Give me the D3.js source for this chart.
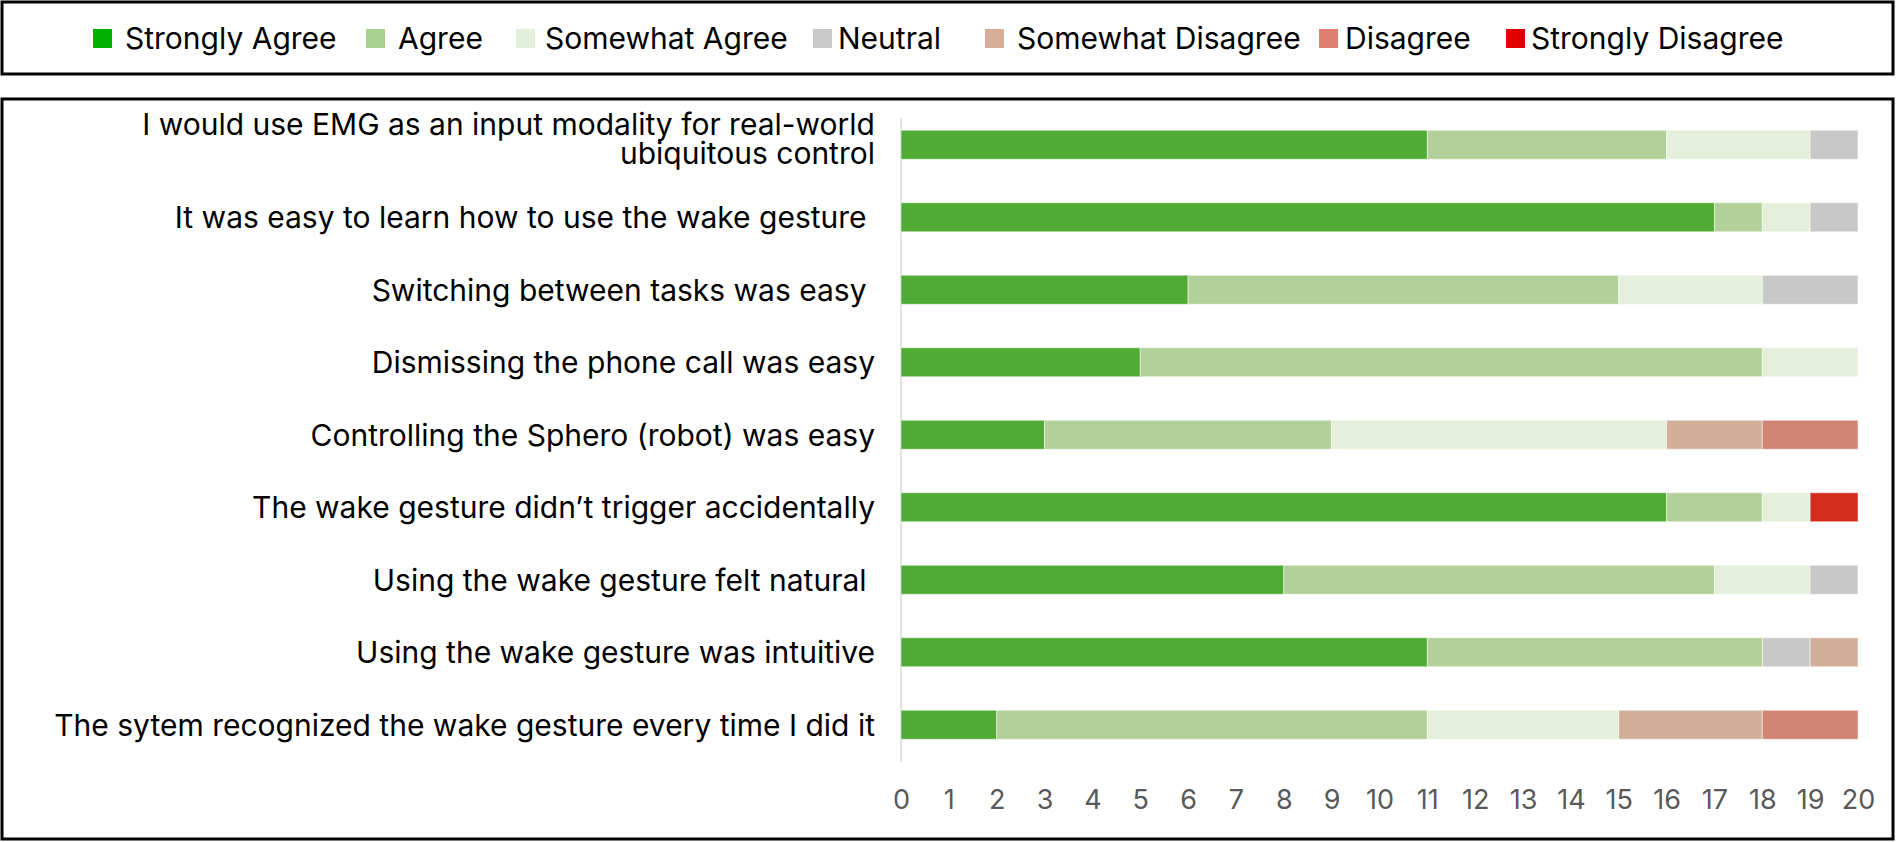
<!DOCTYPE html>
<html>
<head>
<meta charset="utf-8">
<script src="https://cdn.jsdelivr.net/npm/d3@7"></script>
<style>
  body { margin: 0; background: #fff; }
  svg text { font-family: Inter, "Noto Sans", sans-serif; }
</style>
</head>
<body>
<div class="chart"></div>
<script>
// survey statements, top to bottom
var categories = [
  "I would use EMG as an input modality for real-world|ubiquitous control",
  "It was easy to learn how to use the wake gesture ",
  "Switching between tasks was easy ",
  "Dismissing the phone call was easy",
  "Controlling the Sphero (robot) was easy",
  "The wake gesture didn\u2019t trigger accidentally",
  "Using the wake gesture felt natural ",
  "Using the wake gesture was intuitive",
  "The sytem recognized the wake gesture every time I did it"
];

var levels = ["Strongly Agree", "Agree", "Somewhat Agree", "Neutral",
  "Somewhat Disagree", "Disagree", "Strongly Disagree"];

// number of participants per answer
var stronglyAgree     = [11, 17, 6, 5, 3, 16, 8, 11, 2];
var agree             = [5, 1, 9, 13, 6, 2, 9, 7, 9];
var somewhatAgree     = [3, 1, 3, 2, 7, 1, 2, 0, 4];
var neutral           = [1, 1, 2, 0, 0, 0, 1, 1, 0];
var somewhatDisagree  = [0, 0, 0, 0, 2, 0, 0, 1, 3];
var disagree          = [0, 0, 0, 0, 2, 0, 0, 0, 2];
var stronglyDisagree  = [0, 0, 0, 0, 0, 1, 0, 0, 0];

var xTicks = d3.range(0, 21);

var barColors = ["#4fab33", "#b2d198", "#e4f0db", "#c8c8c8", "#d2af9a", "#d28474", "#d22d1e"];
var legendColors = ["#00b000", "#a9d18e", "#e2efda", "#c9c9c9", "#d9ae98", "#e08070", "#e00000"];

var svgWidth = 1897;
var svgHeight = 842;

var svg = d3.select(".chart")
  .append("svg")
  .attr("width", svgWidth)
  .attr("height", svgHeight);

// build rows for the stack
var series = [stronglyAgree, agree, somewhatAgree, neutral, somewhatDisagree, disagree, stronglyDisagree];
var rows = categories.map(function(c, i) {
  var row = { category: c };
  levels.forEach(function(l, j) { row[l] = series[j][i]; });
  return row;
});

var stacked = d3.stack().keys(levels)(rows);

// ---- legend box
svg.append("rect")
  .attr("x", 2).attr("y", 2)
  .attr("width", 1891).attr("height", 72)
  .attr("fill", "none")
  .attr("stroke", "#000")
  .attr("stroke-width", 3);

var legendSquareX = [93, 366, 516, 813, 985, 1319, 1506];
var legendTextX = [125, 398, 545, 838, 1017, 1345, 1531];

var legend = svg.append("g");
levels.forEach(function(l, i) {
  legend.append("rect")
    .attr("x", legendSquareX[i]).attr("y", 29)
    .attr("width", 19).attr("height", 19)
    .attr("fill", legendColors[i]);
  legend.append("text")
    .attr("x", legendTextX[i]).attr("y", 38)
    .attr("dy", "0.35em")
    .attr("font-size", 30)
    .attr("fill", "#000")
    .text(l);
});

// ---- chart box
svg.append("rect")
  .attr("x", 2).attr("y", 99)
  .attr("width", 1891).attr("height", 740)
  .attr("fill", "none")
  .attr("stroke", "#000")
  .attr("stroke-width", 3);

var xScale = d3.scaleLinear()
  .domain([0, 20])
  .range([901, 1858]);

var yScale = d3.scaleBand()
  .domain(categories)
  .range([108.5, 761])
  .paddingInner(0.6)
  .paddingOuter(0.3);

// vertical axis line
svg.append("line")
  .attr("x1", xScale(0)).attr("x2", xScale(0))
  .attr("y1", 118).attr("y2", 762)
  .attr("stroke", "#d9d9d9")
  .attr("stroke-width", 1.5);

// stacked bars
svg.append("g")
  .selectAll("g")
  .data(stacked)
  .enter()
  .append("g")
  .attr("fill", function(d, i) { return barColors[i]; })
  .selectAll("rect")
  .data(function(d) { return d; })
  .enter()
  .append("rect")
  .attr("x", function(d) { return xScale(d[0]); })
  .attr("y", function(d) { return yScale(d.data.category); })
  .attr("width", function(d) { return xScale(d[1]) - xScale(d[0]); })
  .attr("height", yScale.bandwidth())
  .attr("stroke", "#fff")
  .attr("stroke-opacity", 0.5)
  .attr("stroke-width", 1);

// category labels (two-line label sits a bit above the bar centre)
var labels = svg.append("g")
  .selectAll("text")
  .data(categories)
  .enter()
  .append("text")
  .attr("text-anchor", "end")
  .attr("font-size", 30)
  .attr("fill", "#000")
  .style("white-space", "pre")
  .attr("y", function(d) { return yScale(d) + yScale.bandwidth() / 2; });

labels.each(function(d) {
  var parts = d.split("|");
  var t = d3.select(this);
  var yc = yScale(d) + yScale.bandwidth() / 2;
  var shift = parts.length > 1 ? -5.5 : 0.5;
  parts.forEach(function(p, k) {
    t.append("tspan")
      .attr("x", 875)
      .attr("y", yc + shift + (k - (parts.length - 1) / 2) * 29)
      .attr("dy", "0.35em")
      .text(p);
  });
});

// x axis tick labels
var bottomAxis = d3.axisBottom(xScale)
  .tickValues(xTicks)
  .tickSize(0)
  .tickPadding(0)
  .tickFormat(d3.format("d"));

var xAxis = svg.append("g")
  .attr("transform", "translate(0, 790)")
  .call(bottomAxis);

xAxis.select(".domain").remove();
xAxis.selectAll("text")
  .attr("font-family", "'Open Sans', sans-serif")
  .attr("font-size", 27)
  .attr("fill", "#595959")
  .attr("dy", "0.71em");
</script>
</body>
</html>
